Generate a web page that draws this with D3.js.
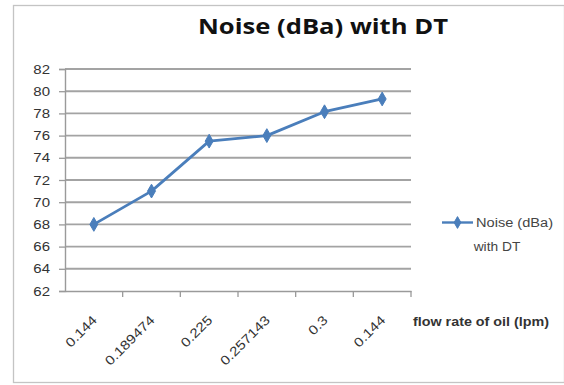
<!DOCTYPE html>
<html>
<head>
<meta charset="utf-8">
<script src="https://cdn.jsdelivr.net/npm/d3@7"></script>
<style>
  html, body { margin: 0; padding: 0; background: #fff; }
  svg { display: block; }
</style>
</head>
<body>
<script>
// Noise level measured at each oil flow rate
const categories = ["0.144", "0.189474", "0.225", "0.257143", "0.3", "0.144 "];
const noiseValues = [68.0, 71.0, 75.5, 76.0, 78.15, 79.3];
const yTicks = [62, 64, 66, 68, 70, 72, 74, 76, 78, 80, 82];
const seriesName = ["Noise (dBa)", "with DT"];
const titleText = "Noise (dBa) with DT";
const xAxisTitle = "flow rate of oil (lpm)";

const W = 564, H = 385;
const plot = { left: 65, right: 411, top: 69, bottom: 291 };
const lineColor = "#4a7ebb";
const gridColor = "#a3a3a3";
const axisColor = "#9a9a9a";
const font = "'Liberation Sans', Arial, sans-serif";

const svg = d3.select("body").append("svg")
  .attr("width", W).attr("height", H);

// Outer chart frame
svg.append("rect")
  .attr("x", 13.5).attr("y", 5.5)
  .attr("width", W - 13).attr("height", 377)
  .attr("fill", "#fff").attr("stroke", "#c4c4c4").attr("stroke-width", 1.3);

const x = d3.scaleBand().domain(categories).range([plot.left, plot.right]);
const y = d3.scaleLinear().domain([62, 82]).range([plot.bottom, plot.top]);
const cx = d => x(d) + x.bandwidth() / 2;

// Stretch a text node horizontally by a factor
function widen(sel, k) {
  sel.each(function () {
    const w = this.getComputedTextLength();
    d3.select(this).attr("textLength", w * k).attr("lengthAdjust", "spacingAndGlyphs");
  });
}

// Horizontal gridlines
svg.append("g").selectAll("line")
  .data(yTicks.filter(t => t !== 62))
  .join("line")
  .attr("x1", plot.left).attr("x2", plot.right)
  .attr("y1", d => y(d)).attr("y2", d => y(d))
  .attr("stroke", gridColor).attr("stroke-width", 1.9);

// Y axis
const yAxis = svg.append("g")
  .attr("transform", `translate(${plot.left},0)`)
  .call(d3.axisLeft(y).tickValues(yTicks).tickSize(6).tickPadding(9));
yAxis.select(".domain").attr("stroke", axisColor).attr("stroke-width", 1.4);
yAxis.selectAll(".tick line").attr("stroke", axisColor).attr("stroke-width", 1.3);
yAxis.selectAll(".tick text")
  .attr("font-family", font).attr("font-size", 12.5).attr("fill", "#333")
  .call(widen, 1.2);

// X axis: ticks sit on the category boundaries
const xAxis = svg.append("g")
  .attr("transform", `translate(0,${plot.bottom})`)
  .call(d3.axisBottom(x).tickSize(0).tickPadding(0));
xAxis.select(".domain").attr("stroke", axisColor).attr("stroke-width", 1.4);
xAxis.selectAll(".tick text").remove();
svg.append("g").selectAll("line")
  .data(categories)
  .join("line")
  .attr("x1", d => x(d) + x.bandwidth()).attr("x2", d => x(d) + x.bandwidth())
  .attr("y1", plot.bottom).attr("y2", plot.bottom + 6)
  .attr("stroke", axisColor).attr("stroke-width", 1.3);

// Rotated category labels
svg.append("g").selectAll("text")
  .data(categories)
  .join("text")
  .attr("text-anchor", "end")
  .attr("transform", d => `translate(${cx(d) + 4},${plot.bottom + 30}) rotate(-45)`)
  .attr("font-family", font).attr("font-size", 13).attr("fill", "#333")
  .text(d => d.trim())
  .call(widen, 1.18);

// Series line and diamond markers
const line = d3.line()
  .x((d, i) => cx(categories[i]))
  .y(d => y(d));
svg.append("path")
  .datum(noiseValues)
  .attr("d", line)
  .attr("fill", "none").attr("stroke", lineColor).attr("stroke-width", 2.8)
  .attr("stroke-linejoin", "round");

const diamond = d3.symbol().type(d3.symbolDiamond).size(55);
svg.append("g").selectAll("path")
  .data(noiseValues)
  .join("path")
  .attr("d", diamond)
  .attr("transform", (d, i) => `translate(${cx(categories[i])},${y(d)})`)
  .attr("fill", lineColor).attr("stroke", lineColor).attr("stroke-width", 1);

// Title
svg.append("text")
  .attr("x", 323).attr("y", 34)
  .attr("text-anchor", "middle")
  .attr("font-family", "'Open Sans', 'Liberation Sans', sans-serif")
  .attr("font-weight", "bold").attr("font-size", 20.5)
  .attr("fill", "#111")
  .attr("textLength", 250).attr("lengthAdjust", "spacingAndGlyphs")
  .text(titleText);

// X axis title
svg.append("text")
  .attr("x", 413).attr("y", 326)
  .attr("font-family", font).attr("font-weight", "bold").attr("font-size", 12)
  .attr("fill", "#333")
  .attr("textLength", 136).attr("lengthAdjust", "spacingAndGlyphs")
  .text(xAxisTitle);

// Legend
const lg = svg.append("g");
lg.append("line")
  .attr("x1", 442).attr("x2", 473).attr("y1", 222.5).attr("y2", 222.5)
  .attr("stroke", lineColor).attr("stroke-width", 2.4);
lg.append("path")
  .attr("d", d3.symbol().type(d3.symbolDiamond).size(40))
  .attr("transform", "translate(457.5,222.5)")
  .attr("fill", lineColor).attr("stroke", lineColor);
lg.append("text")
  .attr("x", 476).attr("y", 227)
  .attr("font-family", font).attr("font-size", 12.5).attr("fill", "#444")
  .attr("textLength", 77).attr("lengthAdjust", "spacingAndGlyphs")
  .text(seriesName[0]);
lg.append("text")
  .attr("x", 497).attr("y", 251)
  .attr("text-anchor", "middle")
  .attr("font-family", font).attr("font-size", 12.5).attr("fill", "#444")
  .text(seriesName[1])
  .call(widen, 1.1);
</script>
</body>
</html>
